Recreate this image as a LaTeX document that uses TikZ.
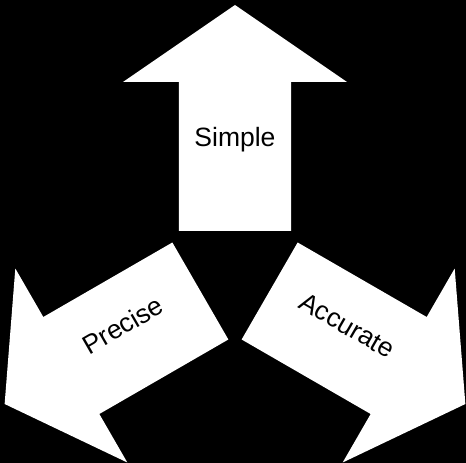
\documentclass[tikz,border=0pt]{standalone}
\usepackage{fontspec}
\setmainfont{Liberation Sans}
\begin{document}
\begin{tikzpicture}[x=1pt,y=1pt,
  arrowshape/.style={fill=white,draw=none},
  lbl/.style={text=black,anchor=base,inner sep=0pt,font=\fontsize{26.5}{30}\selectfont}]
\useasboundingbox[fill=black] (-235,-192) rectangle (231,271);
\foreach \ang/\txt/\nm/\trot in {0/Simple/simple/0, 120/Precise/precise/30, -120/Accurate/accurate/-30}{
  \begin{scope}[rotate=\ang]
    \fill[arrowshape] (-56,40) -- (-56,189) -- (-112,189) -- (0,266) -- (112,189) -- (56,189) -- (56,40) -- cycle;
    \node[lbl,rotate=\trot] (\nm) at (0,124.3) {\txt};
  \end{scope}
}
\end{tikzpicture}
\end{document}
